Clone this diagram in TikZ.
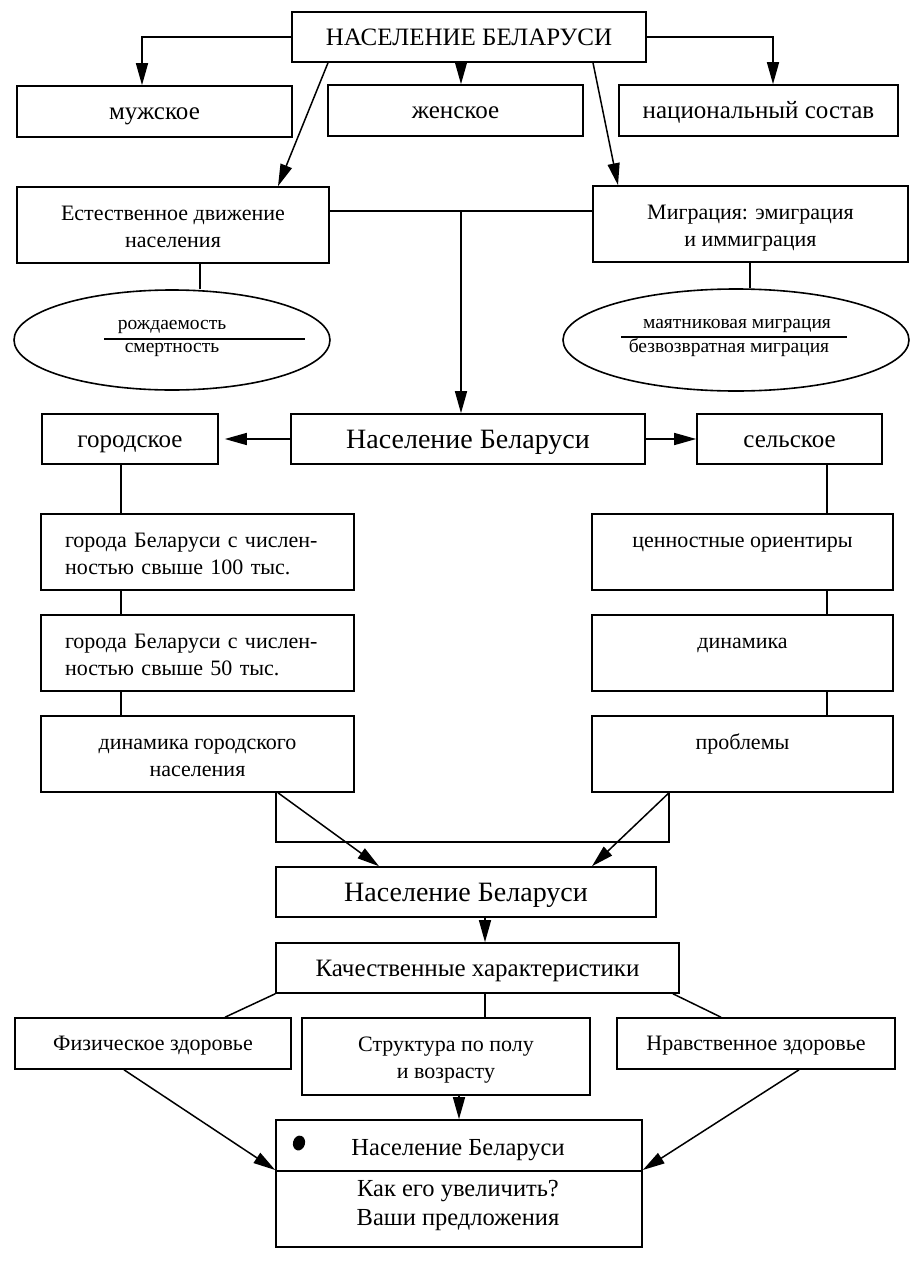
\documentclass[tikz,border=0pt]{standalone}
\usepackage{fontspec}
\setmainfont{Liberation Serif}
\usetikzlibrary{arrows.meta,shapes.geometric}
\newcommand\mytopstrut{\rule{0pt}{26pt}}
\begin{document}
\begin{tikzpicture}[x=1pt,y=-1pt,
  box/.style={draw,line width=1.6pt,inner sep=0pt,align=center,font=\fontsize{22}{27}\selectfont},
  onereg/.style={text height=19pt,text depth=4.4pt},
  bigf/.style={font=\fontsize{25}{29}\selectfont,text height=21.5pt,text depth=5pt},
  hugef/.style={font=\fontsize{28}{32}\selectfont,text height=24pt,text depth=5.6pt},
  oval/.style={draw,ellipse,line width=1.6pt,inner sep=0pt},
  smallt/.style={inner sep=0pt,font=\fontsize{19.5}{23}\selectfont},
  plaint/.style={inner sep=0pt,font=\fontsize{24.5}{29.5}\selectfont},
  conn/.style={line width=1.5pt},
  arr/.style={conn,-{Triangle[length=22pt,width=12pt]}}
]
\useasboundingbox (0,0) rectangle (923,1263);

% top level
\node[box,bigf,minimum width=354pt,minimum height=50pt] (top) at (469,37) {НАСЕЛЕНИЕ БЕЛАРУСИ};
\node[box,bigf,minimum width=275pt,minimum height=51pt] (muzh) at (154.5,111.5) {мужское};
\node[box,bigf,minimum width=255pt,minimum height=51pt] (zhen) at (455.5,110.5) {женское};
\node[box,bigf,minimum width=279pt,minimum height=51pt] (nats) at (758.5,110.5) {национальный состав};

\node[box,minimum width=312pt,minimum height=76pt] (estest) at (173,225) {\mytopstrut Естественное движение\\населения\strut};
\node[box,minimum width=315pt,minimum height=76pt] (migr) at (750.5,224) {\mytopstrut Миграция: эмиграция\\и иммиграция\strut};

\node[oval,minimum width=316pt,minimum height=100pt] (ellL) at (172,340) {};
\node[oval,minimum width=346pt,minimum height=102pt] (ellR) at (736,340) {};

\coordinate (lL1) at (104,339);
\coordinate (lL2) at (305,339);
\draw[line width=1.3pt] (lL1) -- (lL2);
\node[smallt,anchor=base] (rozh) at (172,329) {рождаемость};
\node[smallt,anchor=base] (smert) at (172,352) {смертность};

\coordinate (lR1) at (621,337);
\coordinate (lR2) at (847,337);
\draw[line width=1.3pt] (lR1) -- (lR2);
\node[smallt,anchor=base] (mayat) at (737,328) {маятниковая миграция};
\node[smallt,anchor=base] (bezv) at (729,352) {безвозвратная миграция};

% middle level
\node[box,bigf,minimum width=176pt,minimum height=50pt] (gor) at (130,439) {городское};
\node[box,hugef,minimum width=354pt,minimum height=50pt] (mid) at (468,439) {Население Беларуси};
\node[box,bigf,minimum width=185pt,minimum height=50pt] (sel) at (789.5,439) {сельское};

\node[box,minimum width=313pt,minimum height=76pt,text width=265pt,align=left] (g1) at (197.5,552)
  {\mytopstrut\makebox[265pt][s]{города Беларуси с числен-}\\ностью свыше 100 тыс.\strut};
\node[box,minimum width=313pt,minimum height=76pt,text width=265pt,align=left] (g2) at (197.5,653)
  {\mytopstrut\makebox[265pt][s]{города Беларуси с числен-}\\ностью свыше 50 тыс.\strut};
\node[box,minimum width=313pt,minimum height=76pt] (g3) at (197.5,754) {\mytopstrut динамика городского\\населения\strut};

\node[box,minimum width=301pt,minimum height=76pt] (s1) at (742.5,552) {\mytopstrut ценностные ориентиры\\\strut};
\node[box,minimum width=301pt,minimum height=76pt] (s2) at (742.5,653) {\mytopstrut динамика\\\strut};
\node[box,minimum width=301pt,minimum height=76pt] (s3) at (742.5,754) {\mytopstrut проблемы\\\strut};

% lower level
\node[box,hugef,minimum width=380pt,minimum height=50pt] (pop3) at (466,892) {Население Беларуси};
\node[box,bigf,minimum width=403pt,minimum height=50pt] (kach) at (477.5,968) {Качественные характеристики};
\node[box,onereg,minimum width=276pt,minimum height=51pt] (fiz) at (153,1043.5) {Физическое здоровье};
\node[box,minimum width=288pt,minimum height=77pt] (str) at (446,1056.5) {\mytopstrut Структура по полу\\и возрасту\strut};
\node[box,onereg,minimum width=278pt,minimum height=51pt] (nrav) at (756,1043.5) {Нравственное здоровье};

\node[draw,line width=1.6pt,inner sep=0pt,minimum width=366pt,minimum height=127pt] (fin) at (459,1183.5) {};
\draw[line width=1.6pt] (fin.west |- 0,1171) -- (fin.east |- 0,1171);
\node[plaint,text height=21pt,text depth=4.9pt] (fint) at (458,1147) {Население Беларуси};
\node[plaint,align=center] (finb) at (458,1205) {\strut Как его увеличить?\\Ваши предложения\strut};
\fill[rotate around={-15:(299,1143)}] (299,1143) ellipse (6pt and 7.5pt);

% connectors: top
\draw[arr] (top.west) -| (142,0 |- muzh.north);
\draw[arr] (top.east) -| (773,0 |- nats.north);
\draw[arr] (461,0 |- top.south) -- (461,0 |- zhen.north);
\draw[arr] (328,0 |- top.south) -- (278,0 |- estest.north);
\draw[arr] (593,0 |- top.south) -- (618,0 |- migr.north);

\coordinate (j1) at (461,211);
\draw[conn] (estest.east |- j1) -- (migr.west |- j1);
\draw[arr] (j1) -- (461,0 |- mid.north);

\draw[conn] (200,0 |- estest.south) -- (200,0 |- ellL.north);
\draw[conn] (750,0 |- migr.south) -- (750,0 |- ellR.north);

\draw[arr,shorten >=6pt] (mid.west) -- (gor.east);
\draw[arr] (mid.east) -- (sel.west);

\draw[conn] (121,0 |- gor.south) -- (121,0 |- g1.north);
\draw[conn] (121,0 |- g1.south) -- (121,0 |- g2.north);
\draw[conn] (121,0 |- g2.south) -- (121,0 |- g3.north);
\draw[conn] (827,0 |- sel.south) -- (827,0 |- s1.north);
\draw[conn] (827,0 |- s1.south) -- (827,0 |- s2.north);
\draw[conn] (827,0 |- s2.south) -- (827,0 |- s3.north);

\coordinate (u1) at (276,842);
\coordinate (u2) at (669,842);
\draw[conn] (276,0 |- g3.south) -- (u1) -- (u2) -- (669,0 |- s3.south);
\draw[arr] (278,0 |- g3.south) -- (379,0 |- pop3.north);
\draw[arr] (669,0 |- s3.south) -- (592,0 |- pop3.north);

\draw[arr] (485,0 |- pop3.south) -- (485,0 |- kach.north);
\draw[conn] (kach.south west) -- (225,0 |- fiz.north);
\draw[conn] (485,0 |- kach.south) -- (485,0 |- str.north);
\draw[conn] (673,0 |- kach.south) -- (721,0 |- nrav.north);

\draw[arr] (459,0 |- str.south) -- (459,0 |- fin.north);
\draw[arr] (124,0 |- fiz.south) -- (fin.west |- 0,1170);
\draw[arr] (799,0 |- nrav.south) -- (fin.east |- 0,1170);
\end{tikzpicture}
\end{document}
